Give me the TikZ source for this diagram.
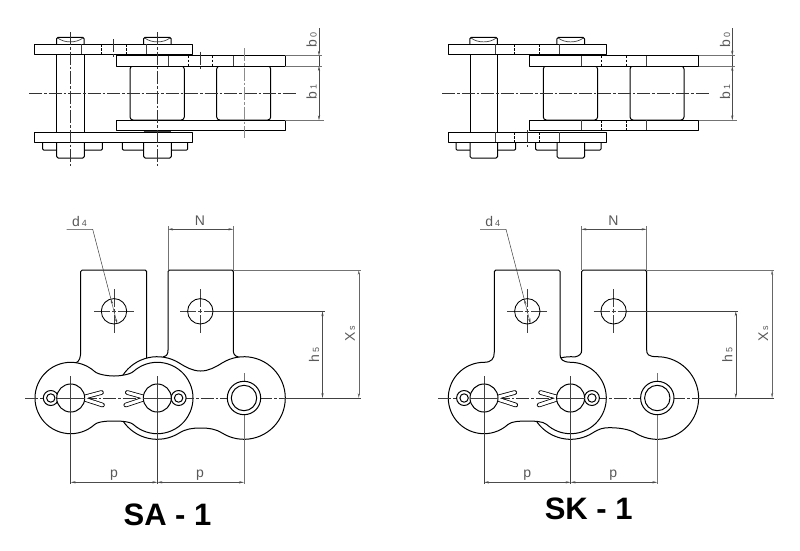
\documentclass[tikz,border=0pt]{standalone}
\usepackage{fontspec}
\setmainfont{Liberation Sans}
\usetikzlibrary{arrows.meta}
\tikzset{
  part/.style={draw=black,line width=1pt,line join=round},
  slim/.style={draw=black!75,line width=0.5pt},
  ext/.style={draw=black!55,line width=0.6pt},
  cline/.style={draw=black!80,line width=0.45pt,dash pattern=on 13pt off 2pt on 2.5pt off 2pt},
  hid/.style={draw=black,line width=0.5pt,dash pattern=on 2.5pt off 1.5pt},
  dimen/.style={draw=black!70,line width=0.5pt,{Stealth[length=5pt,width=2.2pt]}-{Stealth[length=5pt,width=2.2pt]}},
  dimend/.style={draw=black!70,line width=0.5pt,-{Stealth[length=5pt,width=2.2pt]}},
  lbl/.style={inner sep=0pt,text=black!65,font=\fontsize{14}{16}\selectfont},
  ttl/.style={inner sep=0pt,font=\fontsize{31}{36}\selectfont\bfseries},
  arcs/.style={samples=45,variable=\t}
}
\newcommand{\smalldig}[1]{\hspace{2pt}{\fontsize{9}{10}\selectfont #1}}
% closed two-lobed link plate: x1 x2 y R wtop wbottom theta k
\newcommand{\drawlink}[8]{%
  \pgfmathsetmacro\lkm{(#1+#2)/2}%
  \pgfmathsetmacro\lksx{#4*sin(#7)}%
  \pgfmathsetmacro\lksy{#4*cos(#7)}%
  \pgfmathsetmacro\lkkx{#8*cos(#7)}%
  \pgfmathsetmacro\lkky{#8*sin(#7)}%
  \pgfmathsetmacro\lkst{-#7}%
  \pgfmathsetmacro\lkend{180+#7}%
  \pgfmathsetmacro\lkba{180-#7}%
  \pgfmathsetmacro\lkbb{360+#7}%
  \draw[part,fill=white] ({\lkm},{#3-#5})
    .. controls ({\lkm+#8},{#3-#5}) and ({#2-\lksx-\lkkx},{#3-\lksy+\lkky}) .. ({#2-\lksx},{#3-\lksy})
    -- plot[arcs,domain=\lkst:\lkend] ({#2+#4*sin(\t)},{#3-#4*cos(\t)})
    .. controls ({#2-\lksx-\lkkx},{#3+\lksy-\lkky}) and ({\lkm+#8},{#3+#6}) .. ({\lkm},{#3+#6})
    .. controls ({\lkm-#8},{#3+#6}) and ({#1+\lksx+\lkkx},{#3+\lksy-\lkky}) .. ({#1+\lksx},{#3+\lksy})
    -- plot[arcs,domain=\lkba:\lkbb] ({#1+#4*sin(\t)},{#3-#4*cos(\t)})
    .. controls ({#1+\lksx+\lkkx},{#3-\lksy+\lkky}) and ({\lkm-#8},{#3-#5}) .. ({\lkm},{#3-#5}) -- cycle;%
}
% cross through a hole centre
\newcommand{\holecross}[2]{%
  \draw[slim,dash pattern=on 16pt off 2pt on 4pt off 2pt on 16pt] (#1-20,#2) -- (#1+20,#2);
  \draw[slim,dash pattern=on 18pt off 2pt on 4pt off 2pt on 18pt] (#1,#2-22) -- (#1,#2+22);%
}
% cotter pin: eye x, leg start x, tip xs
\newcommand{\cotter}[4]{%
  \draw[line width=4.6pt,black,line cap=round] (#2,398) -- (#3,392.5);
  \draw[line width=4.6pt,black,line cap=round] (#2,398) -- (#4,405);
  \draw[line width=3pt,white,line cap=round] (#2,398) -- (#3,392.5);
  \draw[line width=3pt,white,line cap=round] (#2,398) -- (#4,405);
  \draw[part,fill=white] (#1,398) circle[radius=7.5];
  \draw[part] (#1,398) circle[radius=4.2];%
}
% common plan view
\newcommand{\planview}{%
  \draw[part] (56.7,54) -- (56.7,132) (84,54) -- (84,132);
  \foreach \hx in {70.3,157.4}{
    \draw[part,rounded corners=1.5pt] (\hx-13.8,44) -- (\hx-13.8,37.3) -- (\hx+13.8,37.3) -- (\hx+13.8,44);
    \draw[slim,line width=0.7pt] (\hx-12.5,38) .. controls (\hx-6,43.2) and (\hx+6,43.2) .. (\hx+12.5,38);
  }
  \draw[part,rounded corners=1pt] (42.7,142) -- (42.7,150) -- (102.3,150) -- (102.3,142);
  \draw[part,rounded corners=1pt] (122.3,142) -- (122.3,150) -- (187.7,150) -- (187.7,142);
  \draw[part,fill=white,rounded corners=1.5pt] (56.7,142) -- (56.7,158) -- (84.3,158) -- (84.3,142);
  \draw[part,fill=white,rounded corners=1.5pt] (143.7,142) -- (143.7,158) -- (171.3,158) -- (171.3,142);
  \draw[part,fill=white,rounded corners=3pt] (130,66) rectangle (184.3,120);
  \draw[part,fill=white,rounded corners=3pt] (216.7,66) rectangle (270.7,120);
  \draw[part,fill=white] (34.7,44) rectangle (192.7,54.3);
  \draw[part,fill=white] (34.7,132) rectangle (192.7,142.3);
  \draw[part,fill=white] (116.3,55.7) rectangle (285.3,66);
  \draw[part,fill=white] (116.3,120.3) rectangle (285.3,130.3);
  \draw[slim] (81.7,44) -- (81.7,54.3) (146.3,44) -- (146.3,54.3) (168.3,55.7) -- (168.3,66) (233.3,55.7) -- (233.3,66);
  \draw[hid] (101.3,44) -- (101.3,54.3) (126,44) -- (126,54.3) (188.3,55.7) -- (188.3,66) (212.7,55.7) -- (212.7,66);
  \draw[cline] (29,93.3) -- (297,93.3);
  \draw[ext] (285.3,55.7) -- (322,55.7) (285.3,66) -- (322,66) (285.3,120.3) -- (324,120.3);
  \draw[dimend] (319,28) -- (319,55.7);
  \draw[dimen] (319,66) -- (319,120.3);
  \draw[slim] (319,55.7) -- (319,66);
  \node[lbl,rotate=90] (bzero) at (311.7,40) {b\smalldig{0}};
  \node[lbl,rotate=90] (bone) at (311.7,92) {b\smalldig{1}};%
}
% common dimensions of the front view
\newcommand{\frontdims}{%
  \draw[cline] (25,398) -- (290,398);
  \draw[slim] (25,398) -- (36,398) (283,398) -- (361,398);
  \draw[slim] (70.7,376) -- (70.7,484) (157.3,376) -- (157.3,484);
  \draw[ext] (244,373) -- (244,484);
  \holecross{114}{311.3}
  \holecross{200.3}{311.3}
  \foreach \cx in {114,200.3}{\draw[part,line width=0.85pt] (\cx,311.3) circle[radius=12.7];}
  \coordinate (elbowstart) at (66.7,229.3);
  \coordinate (elbow) at (92.7,229.3);
  \coordinate (holetop) at (110.9,299.0);
  \coordinate (holemid) at (114,311.3);
  \coordinate (holebot) at (117.1,323.6);
  \draw[slim] (elbowstart) -- (elbow) -- (holetop);
  \draw[dimend] (holemid) -- (holetop);
  \draw[dimend] (holemid) -- (holebot);
  \draw[ext] (168,270) -- (168,226) (233.3,270) -- (233.3,226);
  \draw[dimen] (168,229.3) -- (233.3,229.3);
  \draw[ext] (233.3,270) -- (361,270);
  \draw[slim] (216,311.3) -- (325,311.3);
  \draw[dimen] (322.5,311.3) -- (322.5,398);
  \draw[dimen,draw=black!60] (358.8,270) -- (358.8,398);
  \draw[dimen] (70.7,482.3) -- (157.3,482.3);
  \draw[dimen] (157.3,482.3) -- (244,482.3);
  \node[lbl] (dfour) at (79.5,221.5) {d\smalldig{4}};
  \node[lbl] (enn) at (200,221) {N};
  \node[lbl,rotate=90] (hfive) at (314,355) {h\smalldig{5}};
  \node[lbl,rotate=90] (xess) at (350,334) {X\smalldig{s}};
  \node[lbl] (pone) at (114,475) {p};
  \node[lbl] (ptwo) at (200,475) {p};%
}
\newcommand{\pinsfront}{%
  \cotter{50.8}{81}{101.5}{102.5}
  \cotter{178.6}{147}{127.3}{125.8}
  \draw[part,fill=white] (70.7,398) circle[radius=14];
  \draw[part,fill=white] (157.3,398) circle[radius=14];
  \draw[slim] (56.7,398) -- (84.7,398) (70.7,384) -- (70.7,412);
  \draw[slim] (143.3,398) -- (171.3,398) (157.3,384) -- (157.3,412);
  \draw[part,fill=white] (244,398) circle[radius=16.7];
  \draw[part] (244,398) circle[radius=12.7];%
}
\begin{document}
\begin{tikzpicture}[x=1pt,y=-1pt]
\fill[white] (0,0) rectangle (800,550);
\useasboundingbox (0,0) rectangle (800,550);

% ---------- SA plan view
\planview
\draw[slim] (143.7,131.2) -- (171.3,131.2);
\draw[cline] (70.3,32) -- (70.3,165.7);
\draw[cline] (157.3,32) -- (157.3,165.7);
\draw[cline,draw=black!45] (244,48) -- (244,138);
\draw[cline] (113.7,39) -- (113.7,57);
\draw[cline] (200.3,51.7) -- (200.3,70.7);

% ---------- SA front view
\draw[part,rounded corners=1.5pt] (146.7,358.3) -- (146.7,270) -- (80.7,270) -- (80.7,350);
\draw[part] (80.7,350) .. controls (80.7,358) and (79.5,361) .. (76,362.8);
\drawlink{157.3}{244}{398}{41.3}{27}{30}{32}{8}
\draw[part,rounded corners=1.5pt] (168,350) -- (168,270) -- (233.3,270) -- (233.3,350);
\draw[part] (168,350) .. controls (168,354) and (167,356) .. (163,356.9);
\draw[part] (233.3,350) .. controls (233.3,354) and (234.5,356) .. (238.5,357);
\drawlink{70.7}{157.3}{398}{35.7}{22}{23}{42}{5}
\frontdims
\pinsfront
\node[ttl] (titlea) at (167.5,514.5) {SA - 1};

% ---------- SK plan view
\begin{scope}[shift={(413.3,0)}]
\planview
\draw[slim] (81.7,132) -- (81.7,142.3) (146.3,132) -- (146.3,142.3) (168.3,120.3) -- (168.3,130.3) (233.3,120.3) -- (233.3,130.3);
\draw[hid] (101.3,132) -- (101.3,142.3) (126,132) -- (126,142.3) (188.3,120.3) -- (188.3,130.3) (212.7,120.3) -- (212.7,130.3);
\draw[cline] (114,130) -- (114,147.3);
\end{scope}

% ---------- SK front view
\begin{scope}[shift={(413.3,0)}]
% inner link with its tab
\draw[part,fill=white] (168.4,272) [rounded corners=1.5pt] -- (168.4,270) -- (233.4,270) [sharp corners] -- (233.4,350)
  .. controls (233.4,354) and (234.5,356.7) .. (244,356.7)
  -- plot[arcs,domain=0:212] ({244+41.3*sin(\t)},{398-41.3*cos(\t)})
  .. controls (215.3,428.8) and (204,427.7) .. (196.7,427.7)
  .. controls (189,427.7) and (186,428.8) .. (179.2,433)
  -- plot[arcs,domain=148:366] ({157.3+41.3*sin(\t)},{398-41.3*cos(\t)})
  .. controls (166,356) and (168.4,354) .. (168.4,350) -- cycle;
% outer link with its tab
\draw[part,fill=white] (81,272) [rounded corners=1.5pt] -- (81,270) -- (146.7,270) [sharp corners] -- (146.7,354)
  .. controls (146.7,359) and (149,362) .. (157.3,362.3)
  -- plot[arcs,domain=0:222] ({157.3+35.7*sin(\t)},{398-35.7*cos(\t)})
  .. controls (129.7,421.2) and (121,421) .. (114,421)
  .. controls (107,421) and (98.3,421.2) .. (94.6,424.5)
  -- plot[arcs,domain=138:360] ({70.7+35.7*sin(\t)},{398-35.7*cos(\t)})
  .. controls (78,362.3) and (81,359) .. (81,352) -- cycle;
\frontdims
\pinsfront
\end{scope}
\node[ttl] (titleb) at (588.7,509) {SK - 1};
\end{tikzpicture}
\end{document}
